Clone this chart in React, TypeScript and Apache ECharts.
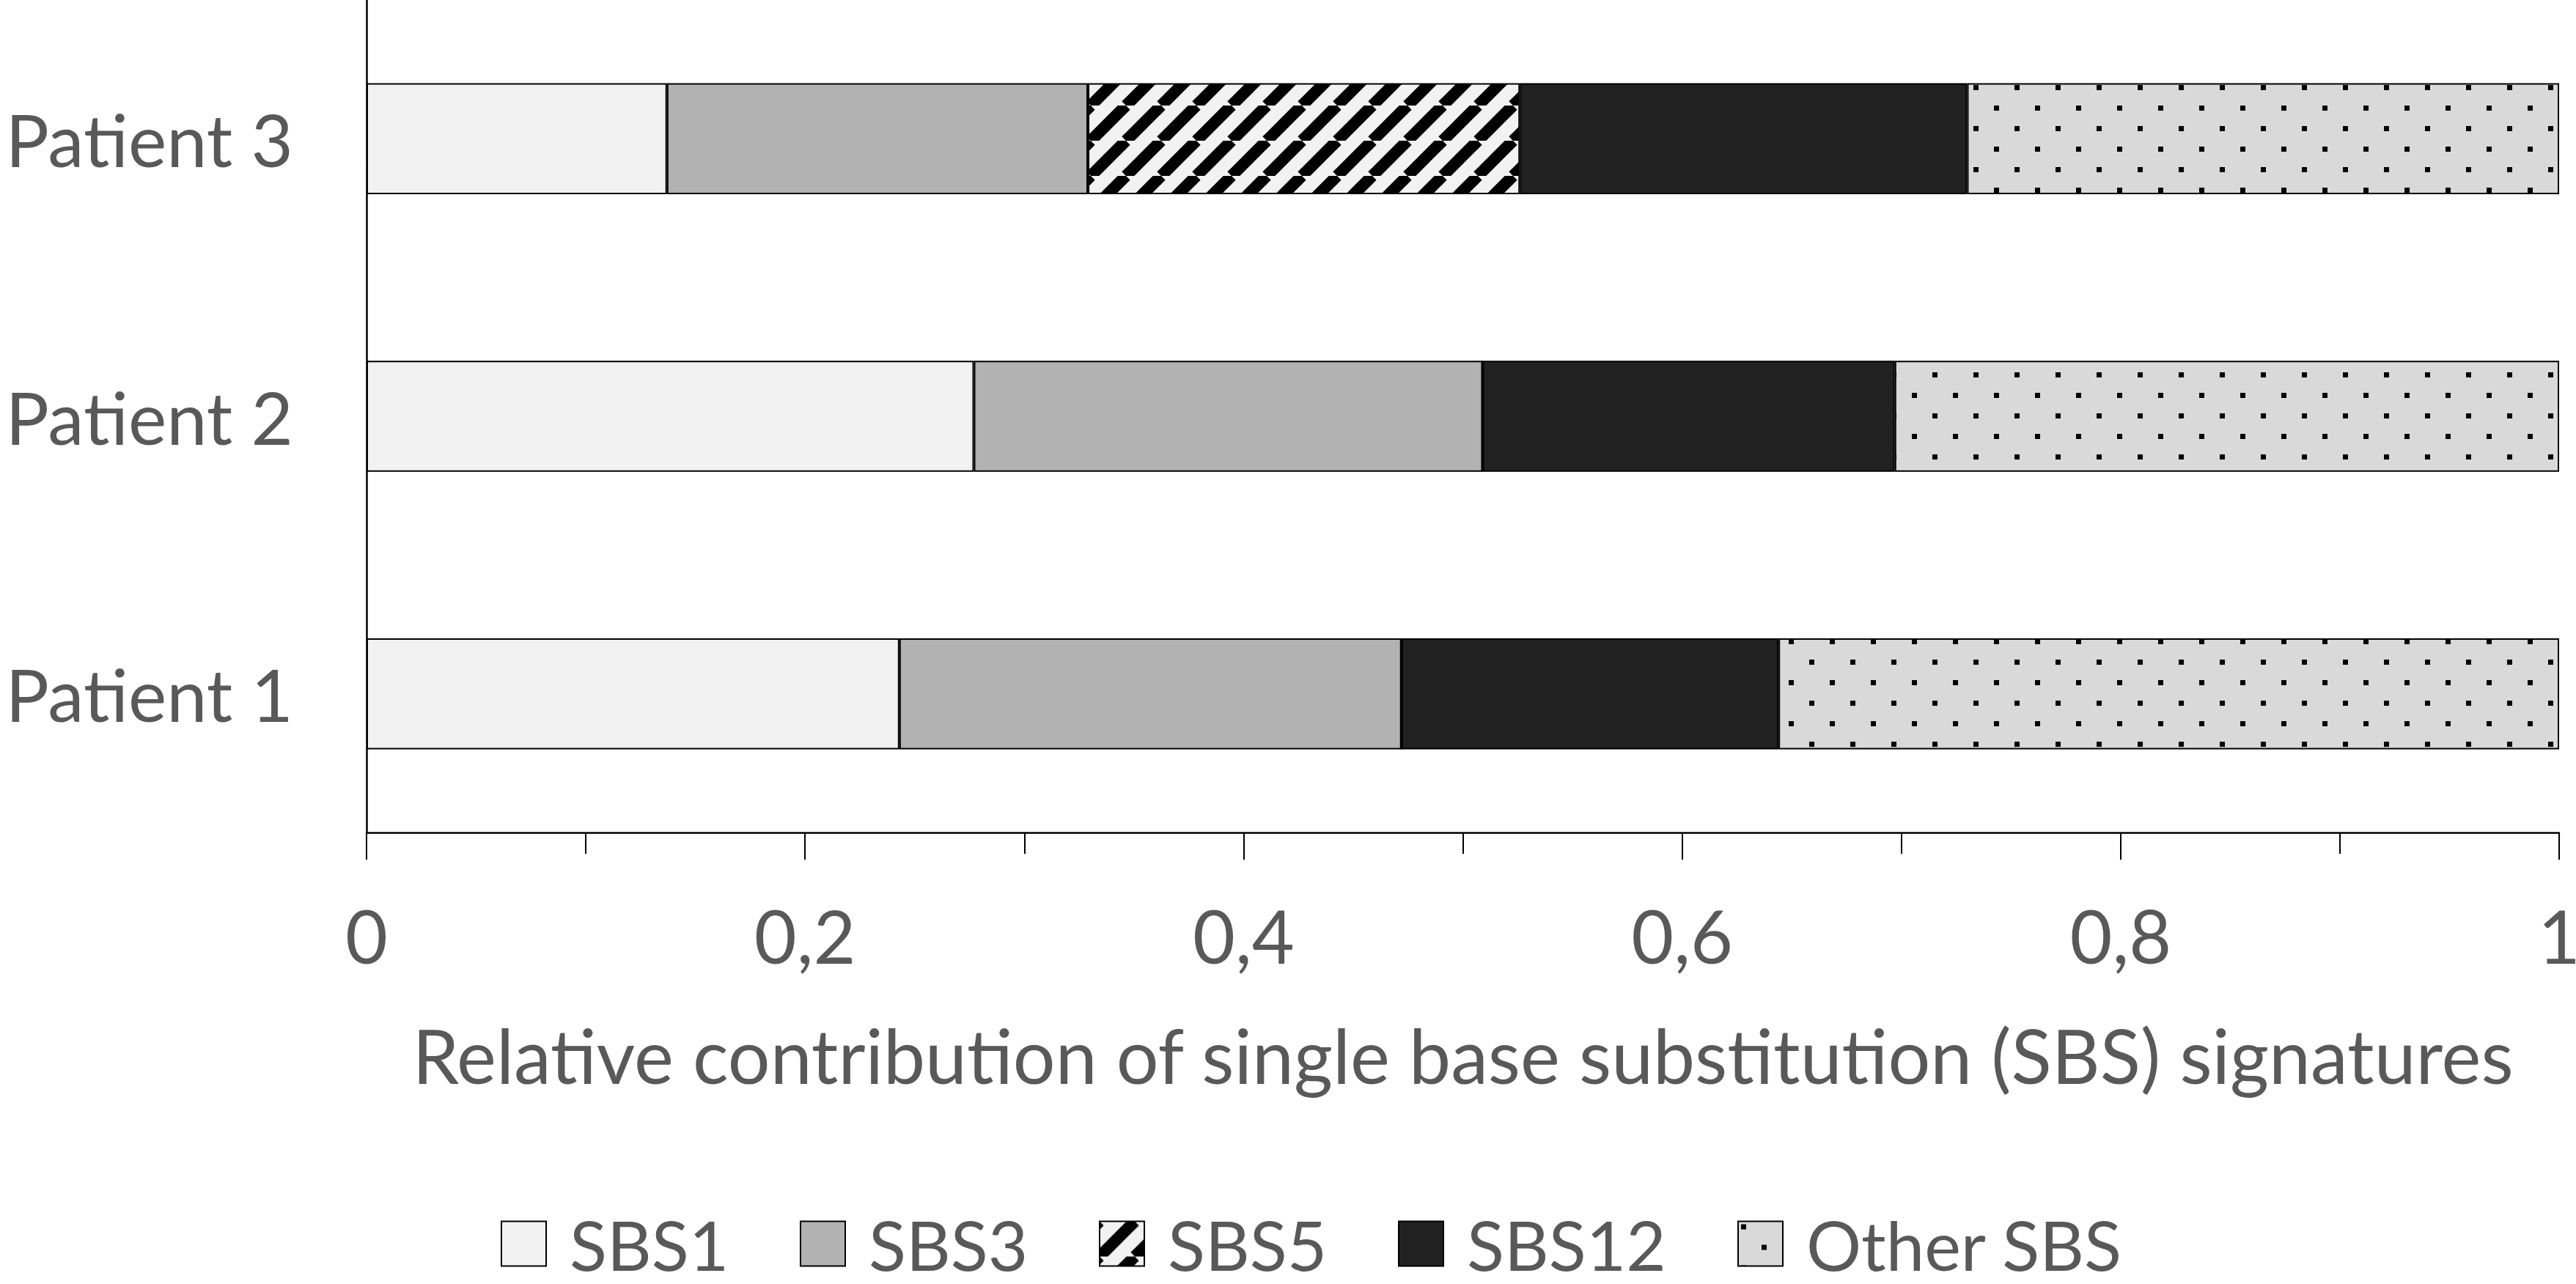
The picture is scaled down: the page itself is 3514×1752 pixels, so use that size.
import React, { useEffect, useRef } from "react";
import * as echarts from "echarts";

const patients = ["Patient 1", "Patient 2", "Patient 3"];
const signatureNames = ["SBS1", "SBS3", "SBS5", "SBS12", "Other SBS"];
const sbs1 = [0.243, 0.277, 0.137];
const sbs3 = [0.229, 0.232, 0.192];
const sbs5 = [0, 0, 0.197];
const sbs12 = [0.172, 0.188, 0.204];
const otherSbs = [0.356, 0.303, 0.27];
const xTickLabels = ["0", "0,2", "0,4", "0,6", "0,8", "1"];
const axisTitle = "Relative contribution of single base substitution (SBS) signatures";
const legendLefts = [683, 1091, 1499, 1907, 2370];

const FONT = "Lato";
const TEXT_COLOR = "#595959";

function stripePattern() {
  const P = 48;
  const c = document.createElement("canvas");
  c.width = P;
  c.height = P;
  const ctx = c.getContext("2d")!;
  ctx.fillStyle = "#f2f2f2";
  ctx.fillRect(0, 0, P, P);
  ctx.strokeStyle = "#000";
  ctx.lineWidth = 16;
  for (const k of [-1, 0, 1]) {
    ctx.beginPath();
    ctx.moveTo(k * P, P);
    ctx.lineTo(k * P + P, 0);
    ctx.stroke();
  }
  return { image: c, repeat: "repeat", imageWidth: P, imageHeight: P };
}

function dotPattern() {
  const W = 56;
  const H = 56;
  const c = document.createElement("canvas");
  c.width = W;
  c.height = H;
  const ctx = c.getContext("2d")!;
  ctx.fillStyle = "#d9d9d9";
  ctx.fillRect(0, 0, W, H);
  ctx.fillStyle = "#000";
  ctx.fillRect(4, 4, 7, 7);
  ctx.fillRect(32, 32, 7, 7);
  return { image: c, repeat: "repeat", imageWidth: W, imageHeight: H };
}

export default function App() {
  const ref = useRef<HTMLDivElement>(null);
  useEffect(() => {
    if (!ref.current) return;
    const chart = echarts.init(ref.current, null, { renderer: "svg" });
    const seriesData = [sbs1, sbs3, sbs5, sbs12, otherSbs];
    const colors: any[] = ["#f2f2f2", "#b2b2b2", stripePattern(), "#212121", dotPattern()];
    const option: any = {
      animation: false,
      backgroundColor: "#ffffff",
      grid: {
        left: 500,
        right: 23,
        top: 0,
        bottom: 616,
        containLabel: false,
        outerBoundsMode: "none",
      },
      legend: signatureNames.map((n, i) => ({
        data: [n],
        left: legendLefts[i],
        top: 1650,
        padding: 0,
        icon: "rect",
        itemWidth: 61,
        itemHeight: 61,
        itemStyle: { borderColor: "#000", borderWidth: 2 },
        textStyle: {
          fontFamily: FONT,
          fontSize: 94,
          lineHeight: 61,
          color: TEXT_COLOR,
          padding: [0, 0, 0, 27],
        },
      })),
      xAxis: {
        type: "value",
        min: 0,
        max: 1,
        interval: 0.2,
        name: axisTitle,
        nameLocation: "middle",
        nameGap: 252,
        nameTextStyle: { fontFamily: FONT, fontSize: 102, color: TEXT_COLOR },
        axisLine: { show: true, lineStyle: { color: "#000", width: 2.5 } },
        axisTick: { show: true, length: 37, lineStyle: { color: "#000", width: 2 } },
        minorTick: { show: true, splitNumber: 2, length: 29, lineStyle: { color: "#000", width: 2 } },
        splitLine: { show: false },
        minorSplitLine: { show: false },
        axisLabel: {
          margin: 90,
          fontFamily: FONT,
          fontSize: 100,
          color: TEXT_COLOR,
          formatter: (v: number) => xTickLabels[Math.round(v / 0.2)] ?? String(v),
        },
      },
      yAxis: {
        type: "category",
        data: patients,
        axisLine: { show: true, lineStyle: { color: "#000", width: 2.5 } },
        axisTick: { show: false },
        splitLine: { show: false },
        axisLabel: {
          margin: 100,
          fontFamily: FONT,
          fontSize: 99,
          color: TEXT_COLOR,
        },
      },
      series: signatureNames.map((n, i) => ({
        name: n,
        type: "bar",
        stack: "total",
        barWidth: "40%",
        data: seriesData[i],
        itemStyle: { color: colors[i], borderColor: "#000", borderWidth: 2 },
        emphasis: { disabled: true },
      })),
    };
    chart.setOption(option);
    return () => chart.dispose();
  }, []);
  return (
    <div
      ref={ref}
      style={{ position: "absolute", left: 0, top: 0, width: 3514, height: 1752 }}
    />
  );
}
